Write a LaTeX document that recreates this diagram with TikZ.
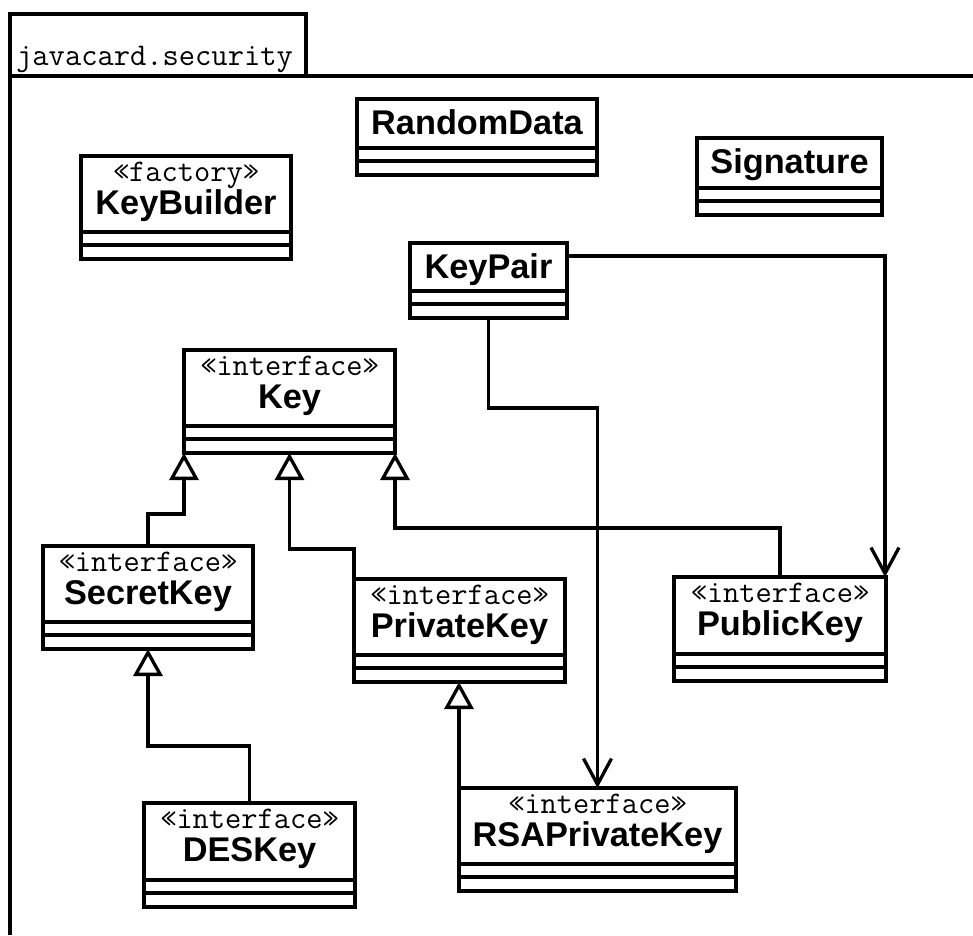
\documentclass[tikz,border=0pt]{standalone}
\usepackage{fontspec}
\newfontfamily\namefont{Liberation Sans}
\usetikzlibrary{arrows.meta}

\tikzset{
  x=1pt, y=-1pt,
  umlline/.style={line width=3.3pt},
  classbox/.style={draw, line width=3.3pt, rectangle, inner sep=0pt, outer sep=0pt, fill=white},
  stereotext/.style={font=\ttfamily\fontsize{31.5}{30}\selectfont, inner sep=0pt, anchor=base},
  nametext/.style={font=\namefont\bfseries\fontsize{34.3}{34}\selectfont, inner sep=0pt, anchor=base},
  pkgtext/.style={font=\ttfamily\fontsize{31.6}{30}\selectfont, inner sep=0pt, anchor=base west},
  generalize/.style={umlline, -{Triangle[open, length=27pt, width=29pt, fill=white]}},
  navigate/.style={umlline, -{Straight Barb[length=26pt, width=28pt]}},
}

% class box: id, left, top, right, bottom (two empty compartments at the bottom)
\newcommand\classnode[5]{%
  \node[classbox, minimum width={(#4-#2)*1pt}, minimum height={(#5-#3)*1pt},
        anchor=north west] (#1) at (#2,#3) {};
  \draw[umlline] ([yshift=27pt]#1.south west) -- ([yshift=27pt]#1.south east)
                 ([yshift=14pt]#1.south west) -- ([yshift=14pt]#1.south east);
}
\newcommand\stereoclass[7]{%
  \classnode{#1}{#2}{#3}{#4}{#5}
  \node[stereotext] (#1-st) at ([yshift=-25pt]#1.north) {«#6»};
  \node[nametext] (#1-nm) at ([yshift=-58pt]#1.north) {#7};
}
\newcommand\plainclass[6]{%
  \classnode{#1}{#2}{#3}{#4}{#5}
  \node[nametext] (#1-nm) at ([yshift=-35pt]#1.north) {#6};
}

\begin{document}
\begin{tikzpicture}
\useasboundingbox[fill=white] (0,0) rectangle (973,935);

% package frame with its tab
\draw[umlline] (10,14) rectangle (306,76);
\draw[umlline] (10,76) -- (973,76);
\draw[umlline] (10,14) -- (10,935);
\node[pkgtext] (pkgname) at (16,65) {javacard.security};

% classes and interfaces
\stereoclass{kb}{81}{156}{291}{259}{factory}{KeyBuilder}
\plainclass{rd}{357}{99}{597}{175}{RandomData}
\plainclass{sig}{697}{138}{882}{215}{Signature}
\plainclass{kp}{410}{243}{567}{318}{KeyPair}
\stereoclass{key}{184}{350}{395}{453}{interface}{Key}
\stereoclass{sec}{43}{546}{253}{649}{interface}{SecretKey}
\stereoclass{priv}{354}{579}{565}{682}{interface}{PrivateKey}
\stereoclass{pub}{674}{577}{886}{681}{interface}{PublicKey}
\stereoclass{des}{144}{803}{355}{907}{interface}{DESKey}
\stereoclass{rsa}{459}{788}{736}{891}{interface}{RSAPrivateKey}

% associations from KeyPair
\draw[navigate] ([yshift=-13pt]kp.north east) -| ([xshift=-1pt]pub.north east);
\draw[navigate] (kp.south) -- ++(0,90) -| (rsa.north);

% generalizations
\draw[generalize] (sec.north) -- ++(0,-32) -| (key.south west);
\draw[generalize] (priv.north west) -- ++(0,-30) -| (key.south);
\draw[generalize] (pub.north) -- ++(0,-49) -| (key.south east);
\draw[generalize] (des.north) -- ++(0,-57) -| (sec.south);
\draw[generalize] (rsa.north west) -- (rsa.north west |- priv.south);
\end{tikzpicture}
\end{document}
